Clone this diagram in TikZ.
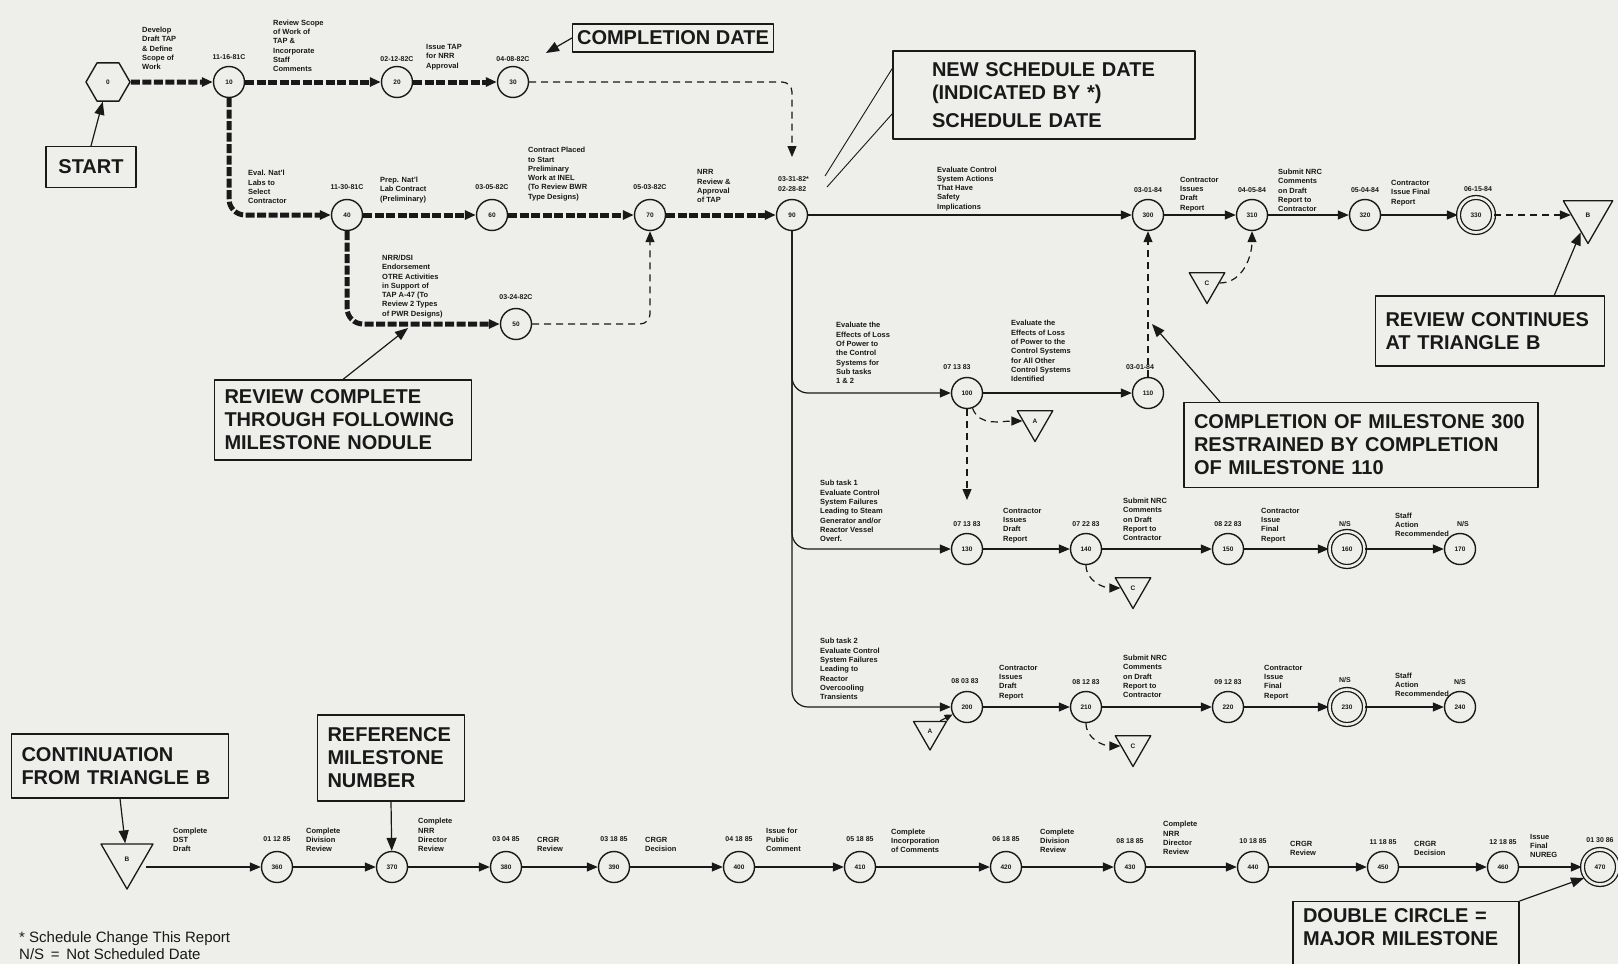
\documentclass[tikz,border=0pt]{standalone}
\usepackage{fontspec}
\setmainfont{Liberation Sans}
\usetikzlibrary{arrows.meta,shapes.geometric}
\definecolor{bg}{RGB}{238,238,235}
\definecolor{ink}{RGB}{25,25,25}
\newcommand\boxfont{\fontsize{20}{23}\selectfont\bfseries}
\newcommand\lblfont{\fontsize{7.5}{9.3}\selectfont\bfseries}
\newcommand\dtfont{\fontsize{7}{8}\selectfont\bfseries}
\newcommand\numfont{\fontsize{6.5}{7}\selectfont\bfseries}
\begin{document}
\begin{tikzpicture}[x=1pt,y=-1pt,line join=round,color=ink,
  ms/.style={circle,draw=ink,line width=1.4pt,minimum size=31pt,inner sep=0pt,font=\numfont},
  major/.style={circle,draw=ink,double=bg,double distance=2.6pt,line width=1.3pt,minimum size=35pt,inner sep=0pt,font=\numfont},
  tri/.style={regular polygon,regular polygon sides=3,shape border rotate=180,draw=ink,line width=1.3pt,inner sep=0pt,font=\numfont},
  arr/.style={-{Triangle[length=11pt,width=9pt]}},
  crit/.style={line width=5pt,dash pattern=on 9pt off 2.5pt},
  flow/.style={line width=1.2pt},
  dsh/.style={line width=1.2pt,dash pattern=on 7pt off 5pt},
  lbl/.style={font=\lblfont,align=left,anchor=south west,inner sep=0pt},
  dt/.style={font=\dtfont,anchor=south,inner sep=0pt},
  cbox/.style={draw=ink,line width=1.2pt,font=\boxfont,align=left,inner xsep=0pt,inner ysep=3pt},
  note/.style={line width=1.2pt,-{Triangle[length=13pt,width=10pt]}},
]
\useasboundingbox (0,0) rectangle (1618,964);
\fill[bg] (0,0) rectangle (1618,964);
\clip (0,0) rectangle (1618,964);

% ---------- milestones ----------
\node[regular polygon,regular polygon sides=6,draw=ink,line width=1.4pt,minimum size=44pt,inner sep=0pt,font=\numfont] (hex) at (108,82) {0};
\node[ms] (m10) at (229,82) {10};
\node[ms] (m20) at (397,82) {20};
\node[ms] (m30) at (513,82) {30};
\node[ms] (m40) at (347,215) {40};
\node[ms] (m50) at (516,324) {50};
\node[ms] (m60) at (492,215) {60};
\node[ms] (m70) at (650,215) {70};
\node[ms] (m90) at (792,215) {90};
\node[ms] (m300) at (1148,215) {300};
\node[ms] (m310) at (1252,215) {310};
\node[ms] (m320) at (1365,215) {320};
\node[major] (m330) at (1476,215) {330};
\node[tri,minimum size=57pt] (tB1) at (1588,215) {B};
\node[tri,minimum size=41pt] (tC1) at (1207,283) {C};
\node[ms] (m100) at (967,393) {100};
\node[ms] (m110) at (1148,393) {110};
\node[tri,minimum size=41pt] (tA1) at (1035,421) {A};
\node[ms] (m130) at (967,549) {130};
\node[ms] (m140) at (1086,549) {140};
\node[ms] (m150) at (1228,549) {150};
\node[major] (m160) at (1347,549) {160};
\node[ms] (m170) at (1460,549) {170};
\node[tri,minimum size=41pt] (tC2) at (1133,588) {C};
\node[ms] (m200) at (967,707) {200};
\node[ms] (m210) at (1086,707) {210};
\node[ms] (m220) at (1228,707) {220};
\node[major] (m230) at (1347,707) {230};
\node[ms] (m240) at (1460,707) {240};
\node[tri,minimum size=38pt] (tA2) at (930,731) {A};
\node[tri,minimum size=41pt] (tC3) at (1133,746) {C};
\node[tri,minimum size=60pt] (tB2) at (127,859) {B};
\coordinate (tB2r) at (146,867);
\node[ms] (m360) at (277,867) {360};
\node[ms] (m370) at (392,867) {370};
\node[ms] (m380) at (506,867) {380};
\node[ms] (m390) at (614,867) {390};
\node[ms] (m400) at (739,867) {400};
\node[ms] (m410) at (860,867) {410};
\node[ms] (m420) at (1006,867) {420};
\node[ms] (m430) at (1130,867) {430};
\node[ms] (m440) at (1253,867) {440};
\node[ms] (m450) at (1383,867) {450};
\node[ms] (m460) at (1503,867) {460};
\node[major] (m470) at (1600,867) {470};

% ---------- connectors ----------
\draw[crit,arr] (hex) -- (m10);
\draw[crit,arr] (m10) -- (m20);
\draw[crit,arr] (m20) -- (m30);
\draw[crit,arr,rounded corners=16pt] (m10) -- (m10 |- m40) -- (m40);
\draw[crit,arr] (m40) -- (m60);
\draw[crit,arr] (m60) -- (m70);
\draw[crit,arr] (m70) -- (m90);
\draw[crit,arr,rounded corners=16pt] (m40) -- (m40 |- m50) -- (m50);
\coordinate (c90) at (792,157);
\draw[dsh,arr,rounded corners=10pt] (m30) -- (m30 -| m90) -- (c90);
\draw[dsh,arr,rounded corners=10pt] (m50) -- (m50 -| m70) -- (m70);

\draw[flow,arr] (m90) -- (m300);
\draw[flow,arr] (m300) -- (m310);
\draw[flow,arr] (m310) -- (m320);
\draw[flow,arr] (m320) -- (m330);
\draw[dsh,arr] (m330) -- (tB1);
\draw[dsh,arr] (tC1.east) to[out=0,in=-90] (m310);

\draw[flow,arr,rounded corners=16pt] (m90) -- (m90 |- m100) -- (m100);
\draw[flow,arr,rounded corners=16pt] (m90) -- (m90 |- m130) -- (m130);
\draw[flow,arr,rounded corners=16pt] (m90) -- (m90 |- m200) -- (m200);

\draw[flow,arr] (m100) -- (m110);
\draw[dsh,arr] (m110) -- (m300);
\draw[dsh,arr] (m100) to[out=-70,in=180] (tA1.west);
\coordinate (c130) at (967,500);
\draw[dsh,arr] (m100) -- (c130);

\draw[flow,arr] (m130) -- (m140);
\draw[flow,arr] (m140) -- (m150);
\draw[flow,arr] (m150) -- (m160);
\draw[flow,arr] (m160) -- (m170);
\draw[dsh,arr] (m140) to[out=-90,in=180] (tC2.west);

\draw[flow,arr] (m200) -- (m210);
\draw[flow,arr] (m210) -- (m220);
\draw[flow,arr] (m220) -- (m230);
\draw[flow,arr] (m230) -- (m240);
\draw[dsh,arr] (m210) to[out=-90,in=180] (tC3.west);
\draw[flow,-{Triangle[length=8pt,width=7pt]}] (tA2.north east) -- (m200);

\draw[flow,arr] (tB2r) -- (m360);
\draw[flow,arr] (m360) -- (m370);
\draw[flow,arr] (m370) -- (m380);
\draw[flow,arr] (m380) -- (m390);
\draw[flow,arr] (m390) -- (m400);
\draw[flow,arr] (m400) -- (m410);
\draw[flow,arr] (m410) -- (m420);
\draw[flow,arr] (m420) -- (m430);
\draw[flow,arr] (m430) -- (m440);
\draw[flow,arr] (m440) -- (m450);
\draw[flow,arr] (m450) -- (m460);
\draw[flow,arr] (m460) -- (m470);

% ---------- activity labels and dates ----------
\node[lbl] (l1) at (142,70) {Develop\\Draft TAP\\\& Define\\Scope of\\Work};
\node[lbl] (l2) at (273,72) {Review Scope\\of Work of\\TAP \&\\Incorporate\\Staff\\Comments};
\node[lbl] (l3) at (426,70) {Issue TAP\\for NRR\\Approval};
\node[dt] (d10) at (229,60) {11-16-81C};
\node[dt] (d20) at (397,62) {02-12-82C};
\node[dt] (d30) at (513,62) {04-08-82C};

\node[lbl] (l4) at (248,204) {Eval. Nat'l\\Labs to\\Select\\Contractor};
\node[dt] (d40) at (347,190) {11-30-81C};
\node[lbl] (l5) at (380,203) {Prep. Nat'l\\Lab Contract\\(Preliminary)};
\node[dt] (d60) at (492,190) {03-05-82C};
\node[lbl] (l6) at (528,201) {Contract Placed\\to Start\\Preliminary\\Work at INEL\\(To Review BWR\\Type Designs)};
\node[dt] (d70) at (650,190) {05-03-82C};
\node[lbl] (l7) at (697,203) {NRR\\Review \&\\Approval\\of TAP};
\node[dt,anchor=south west,align=left] (d90) at (778,192) {03-31-82*\\[2pt]02-28-82};
\node[lbl] (l8) at (382,318) {NRR/DSI\\Endorsement\\OTRE Activities\\in Support of\\TAP A-47 (To\\Review 2 Types\\of PWR Designs)};
\node[dt] (d50) at (516,300) {03-24-82C};

\node[lbl] (l9) at (937,211) {Evaluate Control\\System Actions\\That Have\\Safety\\Implications};
\node[dt] (d300) at (1148,193) {03-01-84};
\node[lbl] (l10) at (1180,212) {Contractor\\Issues\\Draft\\Report};
\node[dt] (d310) at (1252,193) {04-05-84};
\node[lbl] (l11) at (1278,212) {Submit NRC\\Comments\\on Draft\\Report to\\Contractor};
\node[dt] (d320) at (1365,193) {05-04-84};
\node[lbl] (l12) at (1391,206) {Contractor\\Issue Final\\Report};
\node[dt] (d330) at (1478,192) {06-15-84};

\node[lbl] (l13) at (836,384) {Evaluate the\\Effects of Loss\\Of Power to\\the Control\\Systems for\\Sub tasks\\1 \& 2};
\node[dt] (d100) at (957,370) {07 13 83};
\node[lbl] (l14) at (1011,382) {Evaluate the\\Effects of Loss\\of Power to the\\Control Systems\\for All Other\\Control Systems\\Identified};
\node[dt] (d110) at (1140,370) {03-01-84};

\node[lbl] (l15) at (820,542) {Sub task 1\\Evaluate Control\\System Failures\\Leading to Steam\\Generator and/or\\Reactor Vessel\\Overf.};
\node[dt] (d130) at (967,527) {07 13 83};
\node[lbl] (l16) at (1003,543) {Contractor\\Issues\\Draft\\Report};
\node[dt] (d140) at (1086,527) {07 22 83};
\node[lbl] (l17) at (1123,541) {Submit NRC\\Comments\\on Draft\\Report to\\Contractor};
\node[dt] (d150) at (1228,527) {08 22 83};
\node[lbl] (l18) at (1261,543) {Contractor\\Issue\\Final\\Report};
\node[dt] (d160) at (1345,527) {N/S};
\node[lbl] (l19) at (1395,537) {Staff\\Action\\Recommended};
\node[dt] (d170) at (1463,527) {N/S};

\node[lbl] (l20) at (820,700) {Sub task 2\\Evaluate Control\\System Failures\\Leading to\\Reactor\\Overcooling\\Transients};
\node[dt] (d200) at (965,684) {08 03 83};
\node[lbl] (l21) at (999,700) {Contractor\\Issues\\Draft\\Report};
\node[dt] (d210) at (1086,685) {08 12 83};
\node[lbl] (l22) at (1123,698) {Submit NRC\\Comments\\on Draft\\Report to\\Contractor};
\node[dt] (d220) at (1228,685) {09 12 83};
\node[lbl] (l23) at (1264,700) {Contractor\\Issue\\Final\\Report};
\node[dt] (d230) at (1345,683) {N/S};
\node[lbl] (l24) at (1395,697) {Staff\\Action\\Recommended};
\node[dt] (d240) at (1460,685) {N/S};

\node[lbl] (l25) at (173,852) {Complete\\DST\\Draft};
\node[dt] (d360) at (277,842) {01 12 85};
\node[lbl] (l26) at (306,852) {Complete\\Division\\Review};
\node[lbl] (l27) at (418,852) {Complete\\NRR\\Director\\Review};
\node[dt] (d380) at (506,842) {03 04 85};
\node[lbl] (l28) at (537,852) {CRGR\\Review};
\node[dt] (d390) at (614,842) {03 18 85};
\node[lbl] (l29) at (645,852) {CRGR\\Decision};
\node[dt] (d400) at (739,842) {04 18 85};
\node[lbl] (l30) at (766,852) {Issue for\\Public\\Comment};
\node[dt] (d410) at (860,842) {05 18 85};
\node[lbl] (l31) at (891,853) {Complete\\Incorporation\\of Comments};
\node[dt] (d420) at (1006,842) {06 18 85};
\node[lbl] (l32) at (1040,853) {Complete\\Division\\Review};
\node[dt] (d430) at (1130,844) {08 18 85};
\node[lbl] (l33) at (1163,855) {Complete\\NRR\\Director\\Review};
\node[dt] (d440) at (1253,844) {10 18 85};
\node[lbl] (l34) at (1290,856) {CRGR\\Review};
\node[dt] (d450) at (1383,845) {11 18 85};
\node[lbl] (l35) at (1414,856) {CRGR\\Decision};
\node[dt] (d460) at (1503,845) {12 18 85};
\node[lbl] (l36) at (1530,858) {Issue\\Final\\NUREG};
\node[dt] (d470) at (1600,843) {01 30 86};

% ---------- callout boxes ----------
\node[cbox,minimum width=90pt,minimum height=41pt] (bStart) at (91,167) {START};
\draw[note] (bStart.north) -- (hex);

\node[cbox,minimum width=201pt,minimum height=28pt] (bComp) at (673,38) {COMPLETION DATE};
\coordinate (cCD) at (546,53);
\draw[note] (bComp.west) -- (cCD);

\node[cbox,minimum width=302pt,minimum height=88pt,text width=224pt] (bNew) at (1044,95) {NEW SCHEDULE DATE\\(INDICATED BY *)\\[5pt]SCHEDULE DATE};
\coordinate (nsA) at (825,176);
\coordinate (nsB) at (827,187);
\draw[line width=0.9pt] (bNew.170) -- (nsA);
\draw[line width=0.9pt] (bNew.187) -- (nsB);

\node[cbox,minimum width=257pt,minimum height=80pt,text width=237pt] (bRev) at (343,420) {REVIEW COMPLETE\\THROUGH FOLLOWING\\MILESTONE NODULE};
\coordinate (cRev) at (408,328);
\draw[note] (bRev.north) -- (cRev);

\node[cbox,minimum width=229pt,minimum height=70pt,text width=209pt] (bCont) at (1490,331) {REVIEW CONTINUES\\AT TRIANGLE B};
\draw[note] (bCont.29) -- (tB1);

\node[cbox,minimum width=354pt,minimum height=85pt,text width=334pt] (bMs) at (1361,445) {COMPLETION OF MILESTONE 300\\RESTRAINED BY COMPLETION\\OF MILESTONE 110};
\coordinate (cMs) at (1152,324);
\draw[note] (bMs.163.5) -- (cMs);

\node[cbox,minimum width=217pt,minimum height=64pt,text width=197pt] (bCB) at (120,766) {CONTINUATION\\FROM TRIANGLE B};
\draw[note] (bCB.south) -- (tB2);

\node[cbox,minimum width=147pt,minimum height=86pt,text width=127pt] (bRef) at (391,758) {REFERENCE\\MILESTONE\\NUMBER};
\draw[note] (bRef.south) -- (m370);

\node[cbox,minimum width=226pt,text width=206pt,inner ysep=7pt,anchor=north] (bDbl) at (1406,901) {DOUBLE CIRCLE =\\MAJOR MILESTONE\\[30pt]\mbox{}};
\coordinate (cDbl) at (1584,878);
\draw[note] (bDbl.north east) -- (cDbl);

% ---------- footnotes ----------
\node[anchor=base west,inner sep=0pt,font=\fontsize{15}{17}\selectfont] (f1) at (19,942) {* Schedule Change This Report};
\node[anchor=base west,inner sep=0pt,font=\fontsize{15}{17}\selectfont] (f2) at (19,959) {N/S \,=\, Not Scheduled Date};
\end{tikzpicture}
\end{document}
